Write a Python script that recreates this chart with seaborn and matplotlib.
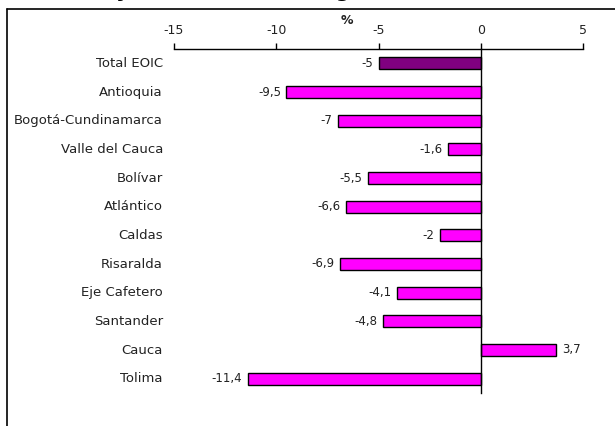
import numpy as np
import matplotlib
matplotlib.use("Agg")
import matplotlib.pyplot as plt
from matplotlib.lines import Line2D
import seaborn as sns

# Data
regiones = ["Total EOIC", "Antioquia", "Bogotá-Cundinamarca", "Valle del Cauca",
            "Bolívar", "Atlántico", "Caldas", "Risaralda", "Eje Cafetero",
            "Santander", "Cauca", "Tolima"]
variacion = [-5, -9.5, -7, -1.6, -5.5, -6.6, -2, -6.9, -4.1, -4.8, 3.7, -11.4]
x_ticks = [-15, -10, -5, 0, 5]

sns.set_style("white")
plt.rcParams['font.family'] = ['DejaVu Sans']

W, H = 615, 426
fig = plt.figure(figsize=(W / 100, H / 100), dpi=100)
ax = fig.add_axes([174 / W, 1 - 393 / H, 409 / W, 344 / H])

colores = ["#800080"] + ["#FF00FF"] * (len(regiones) - 1)
sns.barplot(x=variacion, y=regiones, hue=regiones, palette=colores, legend=False,
            orient="h", width=0.43, saturation=1, edgecolor="black", linewidth=1,
            ax=ax)

ax.set_xlim(-15, 5)
ax.set_ylim(len(regiones) - 0.5, -0.5)
ax.set_xticks(x_ticks)
ax.set_xticklabels([str(t) for t in x_ticks])
ax.xaxis.tick_top()
ax.tick_params(axis="x", direction="out", length=4, width=1, color="black",
               pad=5, labelsize=9, labelcolor="#222222")

# spines: top axis line and the zero line only
for s in ["right", "bottom"]:
    ax.spines[s].set_visible(False)
ax.spines["top"].set_color("black")
ax.spines["top"].set_linewidth(1)
ax.spines["left"].set_position(("data", 0))
ax.spines["left"].set_color("black")
ax.spines["left"].set_linewidth(1)

# y ticks between categories on the zero line, labels placed on the left
ax.set_yticks(np.arange(len(regiones)) + 0.5)
ax.set_yticklabels([])
ax.tick_params(axis="y", direction="in", length=4, width=1, color="black")
ax.set_ylabel("")
for i, r in enumerate(regiones):
    ax.text(-0.027, i, r, transform=ax.get_yaxis_transform(), ha="right",
            va="center", fontsize=9.5, color="#222222")

# value labels
for i, v in enumerate(variacion):
    txt = (f"{v:g}").replace(".", ",")
    if v < 0:
        ax.annotate(txt, (v, i), xytext=(-4, 0), textcoords="offset points",
                    ha="right", va="center", fontsize=8.5, color="#222222")
    else:
        ax.annotate(txt, (v, i), xytext=(4, 0), textcoords="offset points",
                    ha="left", va="center", fontsize=8.5, color="#222222")

ax.text(0.423, 1.084, "%", transform=ax.transAxes, ha="center", va="center",
        fontsize=9, fontweight="bold", color="#222222")

# outer frame (cut off at right and bottom)
fig.add_artist(Line2D([7 / W, 7 / W], [0, 1 - 9 / H], color="black", lw=1.2))
fig.add_artist(Line2D([7 / W, 1], [1 - 9 / H, 1 - 9 / H], color="black", lw=1.2))

# title, mostly cut off above the image
fig.text(12 / W, 1 + 3 / H, "Industria y Medellín, anual según ciudades",
         ha="left", va="baseline", fontsize=14, fontweight="bold",
         fontstyle="italic", color="black")

fig.savefig("out.png", dpi=100)
